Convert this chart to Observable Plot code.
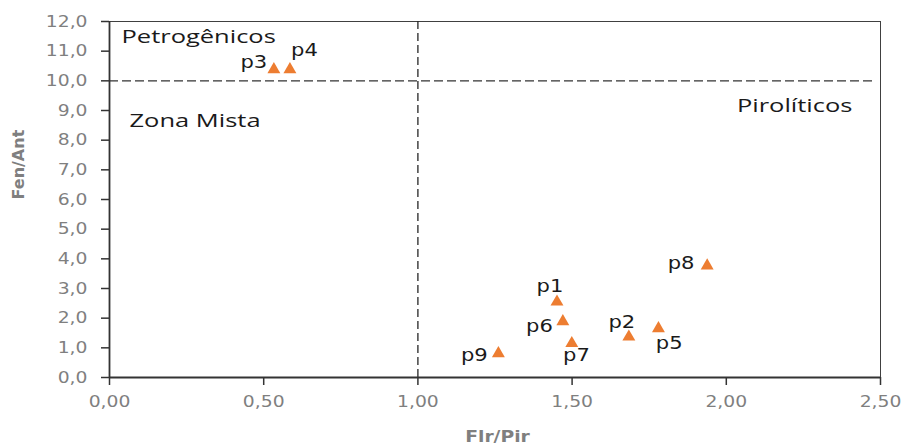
<!DOCTYPE html>
<html>
<head>
<meta charset="utf-8">
<script src="https://cdn.jsdelivr.net/npm/d3@7"></script>
<script src="https://cdn.jsdelivr.net/npm/@observablehq/plot@0.6"></script>
<style>
  html, body { margin: 0; padding: 0; background: #fff; }
</style>
</head>
<body>
<div id="chart"></div>
<script>
// Diagnostic ratios of PAH pairs per sample
const samples = ["p1", "p2", "p3", "p4", "p5", "p6", "p7", "p8", "p9"];
const flrPir  = [1.451, 1.684, 0.533, 0.585, 1.780, 1.470, 1.499, 1.938, 1.261];
const fenAnt  = [2.55, 1.37, 10.38, 10.38, 1.65, 1.89, 1.15, 3.77, 0.81];

// Axis ticks
const xTicks = [0, 0.5, 1, 1.5, 2, 2.5];
const yTicks = [0, 1, 2, 3, 4, 5, 6, 7, 8, 9, 10, 11, 12];

// Source-zone boundaries and their names
const flrPirLimit = 1;
const fenAntLimit = 10;
const zoneNames = ["Petrogênicos", "Zona Mista", "Pirolíticos"];
const zoneX = [0.039, 0.065, 2.409];
const zoneY = [11.27, 8.44, 8.94];
const zoneAnchor = ["start", "start", "end"];

const points = samples.map((name, i) => ({name, x: flrPir[i], y: fenAnt[i]}));

// Where each sample label sits relative to its marker
const labelPlacement = {
  p1: {anchor: "middle", dx: -7,   dy: -9.6},
  p2: {anchor: "middle", dx: -7,   dy: -9},
  p3: {anchor: "end",    dx: -6.6, dy: -1.7},
  p4: {anchor: "middle", dx: 14.5, dy: -14},
  p5: {anchor: "middle", dx: 10.7, dy: 20},
  p6: {anchor: "end",    dx: -10,  dy: 10.7},
  p7: {anchor: "middle", dx: 4.6,  dy: 17.7},
  p8: {anchor: "end",    dx: -12.7, dy: 3.3},
  p9: {anchor: "end",    dx: -10.6, dy: 7.7}
};

const comma = (digits) => (d) => d3.format(`.${digits}f`)(d).replace(".", ",");

const labelMarks = points.map((p) => {
  const pl = labelPlacement[p.name];
  return Plot.text([p], {
    x: "x", y: "y", text: "name",
    textAnchor: pl.anchor, lineAnchor: "bottom",
    dx: pl.dx, dy: pl.dy,
    fontSize: 18, fill: "#1a1a1a"
  });
});

const zones = zoneNames.map((name, i) => ({name, x: zoneX[i], y: zoneY[i], anchor: zoneAnchor[i]}));
const zoneMarks = zones.map((z) => Plot.text([z], {
  x: "x", y: "y", text: "name",
  textAnchor: z.anchor, lineAnchor: "bottom",
  fontFamily: "Open Sans", fontSize: 18.6, fill: "#1a1a1a"
}));

const chart = Plot.plot({
  width: 903,
  height: 447,
  marginLeft: 109,
  marginRight: 23,
  marginTop: 21,
  marginBottom: 70,
  style: {fontFamily: "DejaVu Sans", fontSize: "16px", color: "#262626", background: "#fff"},
  x: {domain: [0, 2.5]},
  y: {domain: [0, 12]},
  marks: [
    Plot.frame({stroke: "#404040", strokeWidth: 1}),
    Plot.ruleX([flrPirLimit], {y1: 0, y2: 12, stroke: "#262626", strokeWidth: 1.3, strokeDasharray: "8,4"}),
    Plot.ruleY([fenAntLimit], {x1: 0, x2: 2.487, stroke: "#333", strokeWidth: 1.3, strokeDasharray: "9,4"}),
    Plot.ruleX([0], {stroke: "#333", strokeWidth: 1.8}),
    Plot.ruleY([0], {stroke: "#333", strokeWidth: 1.8}),
    Plot.axisX(xTicks, {
      tickSize: 8, tickPadding: 10, tickFormat: comma(2),
      fontSize: 16, stroke: "#333", strokeWidth: 1.5, fill: "#7f7f7f", label: null
    }),
    Plot.axisY(yTicks, {
      tickSize: 8, tickPadding: 14, tickFormat: comma(1),
      fontSize: 16, stroke: "#333", strokeWidth: 1.5, fill: "#7f7f7f", label: null
    }),
    Plot.text(["Flr/Pir"], {
      frameAnchor: "bottom", lineAnchor: "bottom", dx: 2.5, dy: 64.7,
      fontWeight: "bold", fontSize: 16, fill: "#7f7f7f"
    }),
    Plot.text(["Fen/Ant"], {
      frameAnchor: "left", rotate: -90, dx: -90.5,
      fontWeight: "bold", fontSize: 16, fill: "#7f7f7f"
    }),
    Plot.dot(points, {x: "x", y: "y", symbol: "triangle", r: 4.8, fill: "#ED7D31", stroke: "none"}),
    ...labelMarks,
    ...zoneMarks
  ]
});

document.getElementById("chart").appendChild(chart);

// Widen horizontal labels so their glyphs run a little broader than the stock fonts
chart.querySelectorAll("text").forEach((t) => {
  const tr = (t.getAttribute("transform") || "") + (t.parentNode.getAttribute("transform") || "");
  if (tr.includes("rotate") || t.textContent === "Fen/Ant") return;
  const fam = getComputedStyle(t).fontFamily;
  const k = fam.includes("Open Sans") ? 1.37 : 1.17;
  t.setAttribute("textLength", (t.getComputedTextLength() * k).toFixed(1));
  t.setAttribute("lengthAdjust", "spacingAndGlyphs");
});
</script>
</body>
</html>
